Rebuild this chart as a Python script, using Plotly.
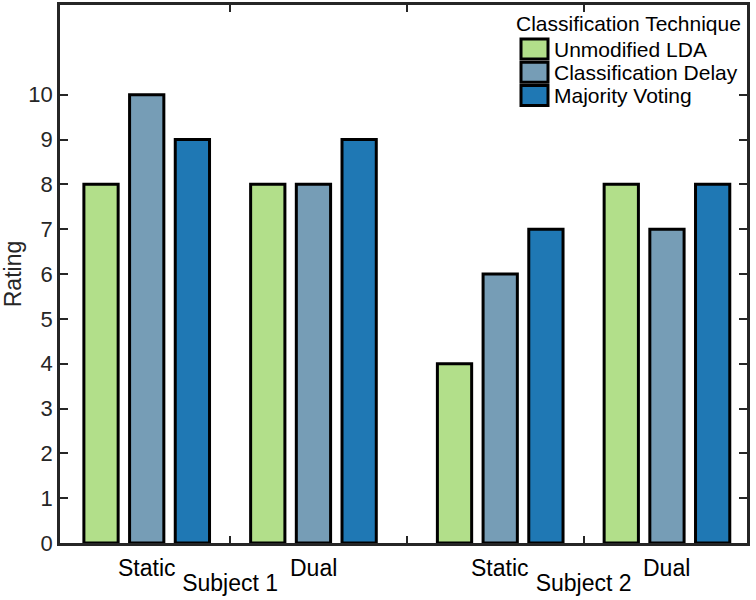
import plotly.graph_objects as go

# ---- data ----
group_positions = [1, 2, 3.12, 4.12]
condition_labels = ["Static", "Dual", "Static", "Dual"]
subject_tick_positions = [1.5, 2.56, 3.62]
subject_tick_labels = ["Subject 1", "", "Subject 2"]

legend_title = "Classification Technique"
techniques = ["Unmodified LDA", "Classification Delay", "Majority Voting"]
unmodified_lda = [8, 8, 4, 8]
classification_delay = [10, 8, 6, 7]
majority_voting = [9, 9, 7, 8]
series_values = [unmodified_lda, classification_delay, majority_voting]
colors = ["#B2DF8A", "#769DB6", "#1F78B4"]

FONT = "Liberation Sans, Arial, sans-serif"
INK = "#262626"

W, H = 756, 600
L, R, T, B = 60, 9, 5, 57
PW, PH = W - L - R, H - T - B


def px_x(px):
    return (px - L) / PW


def px_y(py):
    return (H - B - py) / PH


fig = go.Figure()
for name, vals, col in zip(techniques, series_values, colors):
    fig.add_trace(go.Bar(
        x=group_positions, y=vals, name=name, showlegend=False,
        marker=dict(color=col, line=dict(color="black", width=3)),
    ))

# condition labels under each group
for xpos, lab in zip(group_positions, condition_labels):
    fig.add_annotation(x=xpos, y=0, xref="x", yref="paper", text=lab,
                       showarrow=False, yanchor="middle", yshift=-25,
                       font=dict(family=FONT, size=23, color="black"))

# legend (drawn manually to match swatch size)
fig.add_annotation(x=px_x(743), y=px_y(24), xref="paper", yref="paper",
                   text=legend_title, showarrow=False, xanchor="right",
                   yanchor="middle", font=dict(family=FONT, size=21, color="black"))
for i, (name, col) in enumerate(zip(techniques, colors)):
    cy = 49 + i * 23.3
    fig.add_shape(type="rect", xref="paper", yref="paper",
                  x0=px_x(521), x1=px_x(548), y0=px_y(cy - 10), y1=px_y(cy + 10),
                  fillcolor=col, line=dict(color="black", width=3), layer="above")
    fig.add_annotation(x=px_x(552), y=px_y(cy), xref="paper", yref="paper",
                       text=name, showarrow=False, xanchor="left", yanchor="middle",
                       font=dict(family=FONT, size=21, color="black"))

fig.update_layout(
    width=W, height=H,
    margin=dict(l=L, r=R, t=T, b=B, autoexpand=False),
    paper_bgcolor="white", plot_bgcolor="white",
    barmode="group", bargap=0.178, bargroupgap=0.25,
    font=dict(family=FONT, size=21, color="black"),
    showlegend=False,
    xaxis=dict(
        range=[0.48, 4.60], tickmode="array", automargin=False,
        tickvals=subject_tick_positions, ticktext=subject_tick_labels,
        ticks="inside", ticklen=7, tickwidth=2, tickcolor=INK,
        showline=True, linecolor=INK, linewidth=2.5, mirror="ticks",
        showgrid=False, zeroline=False,
        ticklabelstandoff=18,
        tickfont=dict(family=FONT, size=23, color="black"),
    ),
    yaxis=dict(
        range=[0, 12], tickmode="array", tickvals=list(range(0, 11)),
        automargin=False,
        ticks="inside", ticklen=8, tickwidth=2, tickcolor=INK,
        showline=True, linecolor=INK, linewidth=2.5, mirror="ticks",
        showgrid=False, zeroline=False,
        ticklabelstandoff=0,
        title=dict(text="Rating", font=dict(family=FONT, size=23, color=INK), standoff=6),
        tickfont=dict(family=FONT, size=22, color=INK),
    ),
)

fig.write_html("out.html", config={"displayModeBar": False},
               post_script="document.body.style.margin='0';")
